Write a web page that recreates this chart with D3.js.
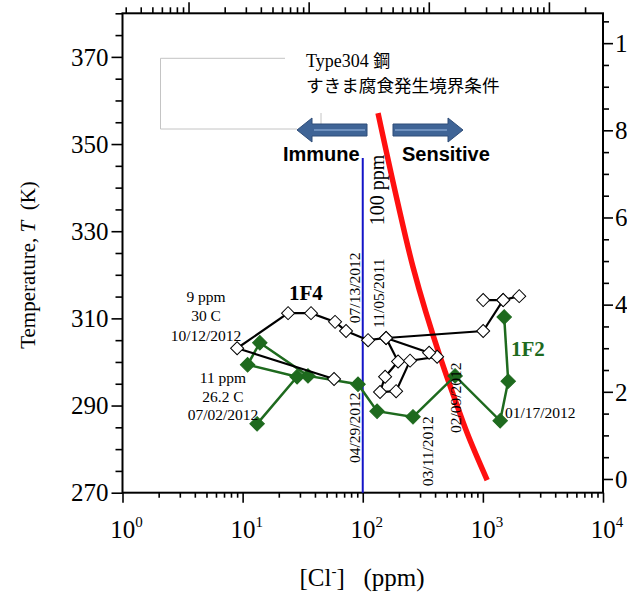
<!DOCTYPE html>
<html><head><meta charset="utf-8">
<script src="https://cdn.jsdelivr.net/npm/d3@7"></script>
<style>
body{margin:0;background:#fff}
svg{display:block}
text{font-family:"Liberation Serif","Times New Roman",serif;fill:#000}
</style>
</head><body>
<script>
// ---------- data ----------
const tempTicksK = [270, 290, 310, 330, 350, 370];
const tempTicksC = [0, 20, 40, 60, 80, 100];
const clTicksExp = [0, 1, 2, 3, 4];

// 1F4 (open diamonds), Cl- (ppm) and temperature (K), in drawing order
const f4Ppm = [57.7, 9.0, 23.9, 37.1, 58.8, 72.6, 110.7, 156.4, 196.8, 153.5, 139.3, 189.5, 247.7, 416, 356.8, 156.4, 1006, 1476, 1006, 1476, 2007];
const f4K   = [296.1, 303.15, 311.2, 311.2, 309.2, 307.1, 305.0, 305.5, 300.1, 296.6, 293.1, 293.3, 300.3, 301.2, 302.1, 305.5, 307.1, 314.2, 314.2, 314.2, 315.1];

// 1F2 (filled diamonds)
const f2Ppm = [1505, 1625, 1393, 587, 262, 131.6, 91.3, 35.0, 13.9, 11.0, 28.4, 13.2];
const f2K   = [310.3, 295.6, 286.5, 296.8, 287.4, 288.7, 294.9, 296.8, 304.4, 299.35, 296.6, 285.8];

// crevice-corrosion boundary (red curve)
const bndPpm = [134, 193, 262, 449, 587, 740, 1086];
const bndK   = [357.1, 337.2, 321.8, 300.5, 291.3, 283.7, 272.9];

// immune / sensitive divider
const dividerPpm = 100;

// rotated date labels: [text, ppm, K]
const dateLabels = [
  ["07/13/2012", 85.8, 308.9],
  ["11/05/2011", 134.6, 307.8],
  ["04/29/2012", 85.0, 276.8],
  ["03/11/2012", 344.7, 271.5],
  ["02/09/2012", 590, 283.7]
];

// ---------- layout ----------
const W = 627, H = 593;
const M = {l: 122.5, r: 603, t: 13.3, b: 492.7};
const GREEN = "#1e6a1e";

const svg = d3.select("body").append("svg").attr("width", W).attr("height", H);

const x = d3.scaleLog().domain([1, 1e4]).range([M.l, M.r]);
const y = d3.scaleLinear().domain([270, 380]).range([M.b, M.t]);
const yC = d3.scaleLinear().domain([270 - 273.15, 380 - 273.15]).range([M.b, M.t]);
const xMol = d3.scaleLog().domain([1 / 35453, 1e4 / 35453]).range([M.l, M.r]);

function minorLog(scale) {
  const [a, b] = scale.domain();
  const out = [];
  for (let d = Math.floor(Math.log10(a)); d <= Math.ceil(Math.log10(b)); d++)
    for (let m = 2; m <= 9; m++) { const v = m * Math.pow(10, d); if (v >= a && v <= b) out.push(v); }
  return out;
}
function ax(g, axis) { g.call(axis); g.select(".domain").remove(); g.selectAll("line").attr("stroke", "#000").attr("stroke-width", 1.6); g.selectAll("text").remove(); }

// bottom
svg.append("g").attr("transform", `translate(0,${M.b})`).call(ax, d3.axisBottom(x).tickValues(clTicksExp.map(e => Math.pow(10, e))).tickSize(10));
svg.append("g").attr("transform", `translate(0,${M.b})`).call(ax, d3.axisBottom(x).tickValues(minorLog(x)).tickSize(5));
// top (mol/L)
svg.append("g").attr("transform", `translate(0,${M.t})`).call(ax, d3.axisTop(xMol).tickValues([1e-4, 1e-3, 1e-2, 1e-1]).tickSize(11));
svg.append("g").attr("transform", `translate(0,${M.t})`).call(ax, d3.axisTop(xMol).tickValues(minorLog(xMol)).tickSize(6));
// left
svg.append("g").attr("transform", `translate(${M.l},0)`).call(ax, d3.axisLeft(y).tickValues(tempTicksK).tickSize(11));
svg.append("g").attr("transform", `translate(${M.l},0)`).call(ax, d3.axisLeft(y).tickValues(d3.range(275, 381, 5).filter(v => !tempTicksK.includes(v))).tickSize(7));
// right (deg C)
svg.append("g").attr("transform", `translate(${M.r},0)`).call(ax, d3.axisRight(yC).tickValues(tempTicksC).tickSize(10));
svg.append("g").attr("transform", `translate(${M.r},0)`).call(ax, d3.axisRight(yC).tickValues(d3.range(5, 106, 5).filter(v => !tempTicksC.includes(v))).tickSize(6));

// frame
svg.append("rect").attr("x", M.l).attr("y", M.t).attr("width", M.r - M.l).attr("height", M.b - M.t)
  .attr("fill", "none").attr("stroke", "#000").attr("stroke-width", 2);

// tick labels
svg.append("g").selectAll("text").data(tempTicksK).join("text")
  .attr("x", M.l - 14).attr("y", d => y(d)).attr("dy", "0.35em").attr("text-anchor", "end")
  .attr("font-size", 25).text(d => d);
svg.append("g").selectAll("text").data(tempTicksC).join("text")
  .attr("x", M.r + 12).attr("y", d => yC(d)).attr("dy", "0.35em").attr("text-anchor", "start")
  .attr("font-size", 25).text(d => d);
const bl = svg.append("g").selectAll("text").data(clTicksExp).join("text")
  .attr("x", d => x(Math.pow(10, d)) + 4).attr("y", M.b + 45).attr("text-anchor", "middle").attr("font-size", 25);
bl.append("tspan").text("10");
bl.append("tspan").attr("font-size", 15).attr("dy", -11).text(d => d);

// axis titles
const yt = svg.append("text").attr("transform", `translate(35,${(M.t + M.b) / 2 + 12}) rotate(-90)`)
  .attr("text-anchor", "middle").attr("font-size", 21).style("white-space", "pre");
yt.append("tspan").text("Temperature, ");
yt.append("tspan").attr("font-style", "italic").text("T");
yt.append("tspan").text("  (K)");
const xt = svg.append("text").attr("x", 362).attr("y", 586).attr("text-anchor", "middle").attr("font-size", 25).style("white-space", "pre");
xt.append("tspan").text("[Cl");
xt.append("tspan").attr("font-size", 15).attr("dy", -10).text("-");
xt.append("tspan").attr("dy", 10).text("]   (ppm)");

// gray callout box lines
const gray = svg.append("g").attr("stroke", "#c4c4c4").attr("stroke-width", 1).attr("fill", "none");
gray.append("path").attr("d", "M285,58.3H160.5V129H297");
gray.append("path").attr("d", "M321,113V129");

// annotation text
const t1 = svg.append("text").attr("x", 306).attr("y", 67).attr("font-size", 18);
t1.append("tspan").text("Type304 ");
t1.append("tspan").attr("font-family", "Noto Sans CJK JP").attr("font-size", 17).text("鋼");
svg.append("text").attr("x", 306).attr("y", 92).attr("font-size", 17.6)
  .style("font-family", "'Noto Sans CJK JP'").text("すきま腐食発生境界条件");

// arrows
function arrowPath(x0, x1, dir) {
  const cy = 130, hb = 6, hh = 12, head = 15;
  const base = x1 - dir * head;
  return `M${x0},${cy - hb}L${base},${cy - hb}L${base},${cy - hh}L${x1},${cy}L${base},${cy + hh}L${base},${cy + hb}L${x0},${cy + hb}Z`;
}
svg.append("path").attr("d", arrowPath(367, 297, -1)).attr("fill", "#3f6496").attr("stroke", "#2f4d78").attr("stroke-width", 1);
svg.append("path").attr("d", arrowPath(393, 463, 1)).attr("fill", "#3f6496").attr("stroke", "#2f4d78").attr("stroke-width", 1);
svg.append("path").attr("d", "M365,130H314M395,130H447").attr("stroke", "#7f9fcc").attr("stroke-width", 1.5);

svg.append("text").attr("x", 283).attr("y", 161).attr("font-size", 20).attr("font-weight", "bold")
  .style("font-family", "'Liberation Sans', Arial, sans-serif").text("Immune");
svg.append("text").attr("x", 402).attr("y", 161).attr("font-size", 20).attr("font-weight", "bold")
  .style("font-family", "'Liberation Sans', Arial, sans-serif").text("Sensitive");

// blue divider
svg.append("line").attr("x1", x(dividerPpm)).attr("x2", x(dividerPpm)).attr("y1", 158).attr("y2", M.b)
  .attr("stroke", "#1414c8").attr("stroke-width", 2);

// red boundary
const bnd = bndPpm.map((p, i) => [p, bndK[i]]);
svg.append("path").datum(bnd).attr("fill", "none").attr("stroke", "#ff1010").attr("stroke-width", 5.5)
  .attr("d", d3.line().x(d => x(d[0])).y(d => y(d[1])).curve(d3.curveMonotoneY));

svg.append("text").attr("transform", `translate(384,190) rotate(-90)`).attr("text-anchor", "middle")
  .attr("font-size", 20).text("100 ppm");

// series 1F2
const f2 = f2Ppm.map((p, i) => [p, f2K[i]]);
svg.append("path").datum(f2).attr("fill", "none").attr("stroke", GREEN).attr("stroke-width", 2.5)
  .attr("d", d3.line().x(d => x(d[0])).y(d => y(d[1])));
svg.append("g").selectAll("path").data(f2).join("path")
  .attr("transform", d => `translate(${x(d[0])},${y(d[1])}) rotate(45)`)
  .attr("d", d3.symbol(d3.symbolSquare, 105)).attr("fill", GREEN).attr("stroke", GREEN).attr("stroke-width", 1);

// series 1F4
const f4 = f4Ppm.map((p, i) => [p, f4K[i]]);
svg.append("path").datum(f4).attr("fill", "none").attr("stroke", "#000").attr("stroke-width", 2.2)
  .attr("d", d3.line().x(d => x(d[0])).y(d => y(d[1])));
svg.append("g").selectAll("path").data(f4).join("path")
  .attr("transform", d => `translate(${x(d[0])},${y(d[1])}) rotate(45)`)
  .attr("d", d3.symbol(d3.symbolSquare, 85)).attr("fill", "#fff").attr("stroke", "#000").attr("stroke-width", 1);

// series labels
svg.append("text").attr("x", 289).attr("y", 300).attr("font-size", 21).attr("font-weight", "bold").text("1F4");
svg.append("text").attr("x", 511).attr("y", 356).attr("font-size", 21).attr("font-weight", "bold").style("fill", GREEN).text("1F2");

// point notes
const note1 = ["9 ppm", "30 C", "10/12/2012"];
const note2 = ["11 ppm", "26.2 C", "07/02/2012"];
svg.append("g").selectAll("text").data(note1).join("text")
  .attr("x", 206).attr("y", (d, i) => 302 + i * 19.3).attr("text-anchor", "middle").attr("font-size", 15.5).text(d => d);
svg.append("g").selectAll("text").data(note2).join("text")
  .attr("x", 223).attr("y", (d, i) => 383 + i * 18.5).attr("text-anchor", "middle").attr("font-size", 15.5).text(d => d);

svg.append("g").selectAll("text").data(dateLabels).join("text")
  .attr("transform", d => `translate(${x(d[1]) + 5.5},${y(d[2])}) rotate(-90)`)
  .attr("font-size", 15.5).text(d => d[0]);
svg.append("text").attr("x", 505).attr("y", 418).attr("font-size", 15.5).text("01/17/2012");
</script>
</body></html>
